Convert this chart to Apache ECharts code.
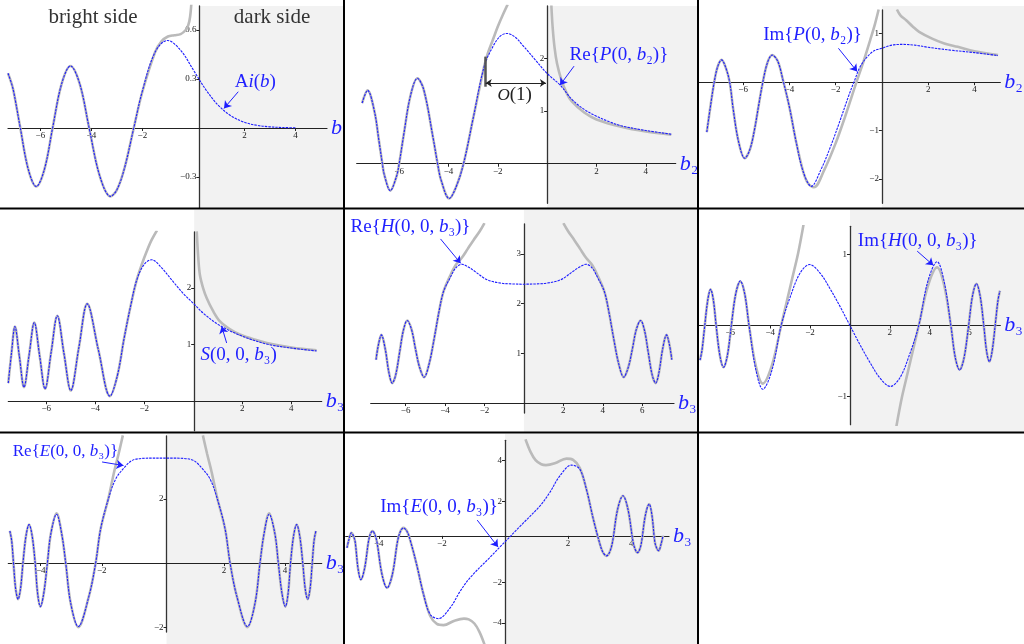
<!DOCTYPE html>
<html>
<head>
<meta charset="utf-8">
<script src="https://cdn.jsdelivr.net/npm/echarts@6/dist/echarts.min.js"></script>
<style>
  html, body { margin: 0; background: #fff; }
  #main { width: 1024px; height: 644px; }
</style>
</head>
<body>
<div id="main"></div>
<script>
// ---- tick labels ----
const xTicksA = [-6, -4, -2, 2, 4]
const xTicksB = [-6, -4, -2, 2, 4, 6]
const xTicksC = [-4, -2, 2, 4]
const p1YTicks = [-0.3, 0.3, 0.6]
const p2YTicks = [1, 2]
const p3YTicks = [-2, -1, 1]
const p4YTicks = [1, 2]
const p5YTicks = [1, 2, 3]
const p6YTicks = [-1, 1]
const p7YTicks = [-2, 2]
const p8YTicks = [-4, -2, 2, 4]

// ---- panel 1: Ai(b) ----
const p1Exact = [[-7.27, 0.335], [-7.1, 0.256], [-7.0, 0.184], [-6.787, 0], [-6.475, -0.253], [-6.163, -0.358], [-5.842, -0.253], [-5.521, 0], [-5.17, 0.269], [-4.82, 0.380], [-4.454, 0.269], [-4.088, 0], [-3.668, -0.296], [-3.248, -0.419], [-3.0, -0.379], [-2.7, -0.245], [-2.338, 0], [-2.0, 0.227], [-1.5, 0.465], [-1.019, 0.536], [-0.5, 0.476], [0, 0.355], [0.5, 0.232], [1.0, 0.135], [1.5, 0.072], [2.0, 0.035], [2.5, 0.016], [3.0, 0.007], [3.5, 0.003], [4.0, 0.001]]
const p1AsymBright = [[-7.27, 0.335], [-7.1, 0.256], [-7.0, 0.184], [-6.787, 0], [-6.475, -0.253], [-6.163, -0.358], [-5.842, -0.253], [-5.521, 0], [-5.17, 0.269], [-4.82, 0.380], [-4.454, 0.269], [-4.088, 0], [-3.668, -0.296], [-3.248, -0.419], [-3.0, -0.379], [-2.7, -0.245], [-2.338, 0], [-2.0, 0.222], [-1.5, 0.465], [-1.25, 0.53], [-1.0, 0.56], [-0.75, 0.568], [-0.5, 0.575], [-0.3, 0.6], [-0.2, 0.63], [-0.13, 0.68], [-0.08, 0.76]]

// ---- panel 2: Re P(0,b2) ----
const p2Exact = [[-7.5, 1.15], [-7.28, 1.39], [-7.0, 0.99], [-6.82, 0.44], [-6.68, 0], [-6.6, -0.21], [-6.36, -0.51], [-6.1, -0.23], [-6.0, 0], [-5.81, 0.56], [-5.55, 1.27], [-5.26, 1.62], [-5.0, 1.40], [-4.62, 0.48], [-4.44, 0], [-4.3, -0.31], [-3.97, -0.66], [-3.7, -0.45], [-3.39, 0], [-3.0, 0.86], [-2.55, 1.85], [-2.2, 2.22], [-1.9, 2.42], [-1.63, 2.47], [-1.3, 2.4], [-1.0, 2.25], [-0.5, 1.98], [0, 1.71], [0.55, 1.48], [1.0, 1.22], [1.5, 1.03], [2.0, 0.9], [2.5, 0.8], [3.0, 0.72], [4.0, 0.63], [5.03, 0.56]]
const p2AsymBright = [[-7.5, 1.15], [-7.28, 1.39], [-7.0, 0.99], [-6.82, 0.44], [-6.68, 0], [-6.6, -0.21], [-6.36, -0.51], [-6.1, -0.23], [-6.0, 0], [-5.81, 0.56], [-5.55, 1.27], [-5.26, 1.62], [-5.0, 1.40], [-4.62, 0.48], [-4.44, 0], [-4.3, -0.31], [-3.97, -0.66], [-3.7, -0.45], [-3.39, 0], [-3.0, 0.86], [-2.55, 1.85], [-2.4, 2.1], [-2.2, 2.35], [-2.0, 2.6], [-1.8, 2.82], [-1.6, 3.02]]
const p2AsymDark = [[0.17, 3.0], [0.22, 2.6], [0.3, 2.2], [0.4, 1.9], [0.57, 1.6], [0.8, 1.33], [1.0, 1.18], [1.5, 0.97], [2.0, 0.84], [3.0, 0.7], [4.0, 0.61], [5.03, 0.55]]

// ---- panel 3: Im P(0,b2) ----
const p3Exact = [[-7.57, -1.03], [-7.4, -0.46], [-7.25, 0], [-7.1, 0.32], [-6.93, 0.46], [-6.75, 0.3], [-6.58, 0], [-6.43, -0.55], [-6.2, -1.22], [-5.93, -1.57], [-5.7, -1.38], [-5.5, -0.96], [-5.335, -0.5], [-5.16, -0.03], [-4.95, 0.40], [-4.74, 0.56], [-4.5, 0.43], [-4.28, 0.05], [-4.0, -0.51], [-3.7, -1.25], [-3.4, -1.85], [-3.05, -2.15], [-2.64, -1.81], [-2.22, -1.33], [-1.8, -0.78], [-1.45, -0.3], [-1.21, 0], [-0.89, 0.36], [-0.4, 0.63], [0, 0.7], [0.5, 0.77], [0.91, 0.78], [1.5, 0.76], [2.0, 0.72], [3.0, 0.66], [4.0, 0.61], [5.02, 0.55]]
const p3AsymBright = [[-7.57, -1.03], [-7.4, -0.46], [-7.25, 0], [-7.1, 0.32], [-6.93, 0.46], [-6.75, 0.3], [-6.58, 0], [-6.43, -0.55], [-6.2, -1.22], [-5.93, -1.57], [-5.7, -1.38], [-5.5, -0.96], [-5.335, -0.5], [-5.16, -0.03], [-4.95, 0.40], [-4.74, 0.56], [-4.5, 0.43], [-4.28, 0.05], [-4.0, -0.51], [-3.7, -1.25], [-3.4, -1.85], [-3.2, -2.08], [-2.94, -2.17], [-2.49, -1.81], [-2.0, -1.26], [-1.59, -0.71], [-1.1, 0], [-0.8, 0.42], [-0.5, 0.88], [-0.3, 1.2], [-0.14, 1.5]]
const p3AsymDark = [[0.65, 1.5], [0.8, 1.38], [1.05, 1.28], [1.33, 1.15], [1.61, 1.04], [2.17, 0.9], [2.7, 0.8], [3.28, 0.73], [4.0, 0.64], [5.02, 0.56]]

// ---- panel 4: S(0,0,b3) ----
const p4Exact = [[-7.55, 0.32], [-7.42, 0.85], [-7.28, 1.32], [-7.1, 0.8], [-6.91, 0.25], [-6.7, 0.82], [-6.49, 1.39], [-6.27, 0.8], [-6.05, 0.22], [-5.8, 0.87], [-5.55, 1.51], [-5.28, 0.85], [-5.0, 0.19], [-4.67, 0.95], [-4.33, 1.72], [-3.87, 0.9], [-3.4, 0.09], [-3.1, 0.45], [-2.82, 1.12], [-2.55, 1.7], [-2.31, 2.14], [-2.0, 2.42], [-1.7, 2.5], [-1.3, 2.36], [-0.8, 2.1], [-0.4, 1.9], [0, 1.73], [0.5, 1.52], [1.16, 1.32], [2.0, 1.15], [3.0, 1.01], [4.0, 0.94], [5.03, 0.89]]
const p4AsymBright = [[-7.55, 0.32], [-7.42, 0.85], [-7.28, 1.32], [-7.1, 0.8], [-6.91, 0.25], [-6.7, 0.82], [-6.49, 1.39], [-6.27, 0.8], [-6.05, 0.22], [-5.8, 0.87], [-5.55, 1.51], [-5.28, 0.85], [-5.0, 0.19], [-4.67, 0.95], [-4.33, 1.72], [-3.87, 0.9], [-3.4, 0.09], [-3.1, 0.45], [-2.82, 1.12], [-2.55, 1.7], [-2.31, 2.14], [-2.1, 2.42], [-1.9, 2.65], [-1.7, 2.85], [-1.48, 3.02]]
const p4AsymDark = [[0.14, 3.0], [0.2, 2.55], [0.27, 2.23], [0.4, 2.0], [0.55, 1.82], [0.8, 1.6], [1.09, 1.41], [1.5, 1.27], [1.9, 1.18], [2.5, 1.09], [3.0, 1.03], [4.0, 0.95], [5.03, 0.9]]

// ---- panel 5: Re H(0,0,b3) ----
const p5Exact = [[-7.5, 0.87], [-7.38, 1.17], [-7.23, 1.37], [-7.03, 1.08], [-6.85, 0.62], [-6.68, 0.40], [-6.5, 0.57], [-6.3, 1.03], [-6.12, 1.45], [-5.92, 1.66], [-5.7, 1.48], [-5.5, 1.09], [-5.3, 0.73], [-5.06, 0.52], [-4.8, 0.8], [-4.55, 1.3], [-4.3, 1.85], [-4.08, 2.24], [-3.74, 2.52], [-3.45, 2.72], [-3.15, 2.79], [-2.8, 2.73], [-2.5, 2.65], [-1.87, 2.48], [-1.15, 2.41], [-0.6, 2.395], [0, 2.39], [0.6, 2.395], [1.15, 2.41], [1.87, 2.48], [2.5, 2.65], [2.8, 2.73], [3.15, 2.79], [3.45, 2.72], [3.74, 2.52], [4.08, 2.24], [4.3, 1.85], [4.55, 1.3], [4.8, 0.8], [5.06, 0.52], [5.3, 0.73], [5.5, 1.09], [5.7, 1.48], [5.92, 1.66], [6.12, 1.45], [6.3, 1.03], [6.5, 0.57], [6.68, 0.40], [6.85, 0.62], [7.03, 1.08], [7.23, 1.37], [7.38, 1.17], [7.5, 0.87]]
const p5AsymBright = [[-7.5, 0.87], [-7.38, 1.17], [-7.23, 1.37], [-7.03, 1.08], [-6.85, 0.62], [-6.68, 0.40], [-6.5, 0.57], [-6.3, 1.03], [-6.12, 1.45], [-5.92, 1.66], [-5.7, 1.48], [-5.5, 1.09], [-5.3, 0.73], [-5.06, 0.52], [-4.8, 0.8], [-4.55, 1.3], [-4.3, 1.85], [-4.08, 2.24], [-3.74, 2.56], [-3.45, 2.78], [-3.15, 2.92], [-2.85, 3.1], [-2.55, 3.28], [-2.25, 3.45], [-2.0, 3.62]]
const p5AsymDark = [[2.0, 3.62], [2.25, 3.45], [2.55, 3.28], [2.85, 3.1], [3.15, 2.92], [3.45, 2.78], [3.74, 2.56], [4.08, 2.24], [4.3, 1.85], [4.55, 1.3], [4.8, 0.8], [5.06, 0.52], [5.3, 0.73], [5.5, 1.09], [5.7, 1.48], [5.92, 1.66], [6.12, 1.45], [6.3, 1.03], [6.5, 0.57], [6.68, 0.40], [6.85, 0.62], [7.03, 1.08], [7.23, 1.37], [7.38, 1.17], [7.5, 0.87]]

// ---- panel 6: Im H(0,0,b3) ----
const p6Exact = [[-7.52, -0.49], [-7.42, -0.35], [-7.3, -0.05], [-7.13, 0.36], [-6.99, 0.51], [-6.85, 0.36], [-6.71, 0], [-6.525, -0.42], [-6.34, -0.59], [-6.145, -0.42], [-5.95, 0], [-5.725, 0.45], [-5.5, 0.63], [-5.28, 0.45], [-5.06, 0], [-4.715, -0.63], [-4.37, -0.9], [-3.91, -0.63], [-3.45, 0], [-3.0, 0.4], [-2.5, 0.74], [-2.02, 0.86], [-1.5, 0.74], [-1.0, 0.52], [-0.5, 0.27], [0, 0], [0.5, -0.27], [1.0, -0.52], [1.5, -0.74], [2.02, -0.86], [2.5, -0.74], [3.0, -0.4], [3.45, 0], [3.91, 0.63], [4.37, 0.9], [4.715, 0.63], [5.06, 0], [5.28, -0.45], [5.5, -0.63], [5.725, -0.45], [5.95, 0], [6.145, 0.42], [6.34, 0.59], [6.525, 0.42], [6.71, 0], [6.85, -0.36], [6.99, -0.51], [7.13, -0.36], [7.3, 0.05], [7.42, 0.35], [7.52, 0.49]]
const p6AsymBright = [[-7.52, -0.49], [-7.42, -0.35], [-7.3, -0.05], [-7.13, 0.36], [-6.99, 0.51], [-6.85, 0.36], [-6.71, 0], [-6.525, -0.42], [-6.34, -0.59], [-6.145, -0.42], [-5.95, 0], [-5.725, 0.45], [-5.5, 0.62], [-5.28, 0.45], [-5.06, 0], [-4.715, -0.58], [-4.37, -0.82], [-3.91, -0.56], [-3.45, 0], [-3.2, 0.3], [-2.9, 0.66], [-2.6, 1.02], [-2.33, 1.42]]
const p6AsymDark = [[2.33, -1.42], [2.6, -1.02], [2.9, -0.66], [3.2, -0.3], [3.45, 0], [3.91, 0.56], [4.37, 0.82], [4.715, 0.58], [5.06, 0], [5.28, -0.45], [5.5, -0.62], [5.725, -0.45], [5.95, 0], [6.145, 0.42], [6.34, 0.59], [6.525, 0.42], [6.71, 0], [6.85, -0.36], [6.99, -0.51], [7.13, -0.36], [7.3, 0.05], [7.42, 0.35], [7.52, 0.49]]

// ---- panel 7: Re E(0,0,b3) ----
const p7Exact = [[-5.01, 1.0], [-4.95, 0.7], [-4.89, 0], [-4.82, -0.8], [-4.74, -1.13], [-4.66, -0.8], [-4.58, 0], [-4.48, 0.85], [-4.38, 1.2], [-4.28, 0.85], [-4.18, 0], [-4.1, -0.95], [-4.01, -1.36], [-3.9, -0.95], [-3.78, 0], [-3.67, 0.9], [-3.48, 1.52], [-3.31, 0.9], [-3.18, 0], [-3.02, -1.24], [-2.77, -1.98], [-2.42, -1.03], [-2.2, 0], [-2.04, 1.05], [-1.82, 1.88], [-1.55, 2.61], [-1.22, 3.02], [-1.0, 3.2], [-0.7, 3.26], [-0.35, 3.27], [0, 3.27], [0.35, 3.27], [0.7, 3.26], [1.0, 3.2], [1.22, 3.02], [1.55, 2.61], [1.82, 1.88], [2.04, 1.05], [2.2, 0], [2.42, -1.03], [2.77, -1.98], [3.02, -1.24], [3.18, 0], [3.31, 0.9], [3.48, 1.52], [3.67, 0.9], [3.78, 0], [3.9, -0.95], [4.01, -1.36], [4.1, -0.95], [4.18, 0], [4.28, 0.85], [4.38, 1.2], [4.48, 0.85], [4.58, 0], [4.66, -0.8], [4.74, -1.13], [4.82, -0.8], [4.89, 0], [4.95, 0.7], [5.01, 1.0]]
const p7AsymBright = [[-5.01, 1.0], [-4.95, 0.7], [-4.89, 0], [-4.82, -0.8], [-4.74, -1.13], [-4.66, -0.8], [-4.58, 0], [-4.48, 0.85], [-4.38, 1.2], [-4.28, 0.85], [-4.18, 0], [-4.1, -0.95], [-4.01, -1.36], [-3.9, -0.95], [-3.78, 0], [-3.67, 0.9], [-3.48, 1.55], [-3.31, 0.9], [-3.18, 0], [-3.02, -1.24], [-2.77, -2.0], [-2.42, -1.03], [-2.2, 0], [-2.04, 1.05], [-1.82, 1.88], [-1.75, 2.15], [-1.6, 2.82], [-1.45, 3.4], [-1.31, 3.98]]
const p7AsymDark = [[1.31, 3.98], [1.45, 3.4], [1.6, 2.82], [1.75, 2.15], [1.82, 1.88], [2.04, 1.05], [2.2, 0], [2.42, -1.03], [2.77, -2.0], [3.02, -1.24], [3.18, 0], [3.31, 0.9], [3.48, 1.55], [3.67, 0.9], [3.78, 0], [3.9, -0.95], [4.01, -1.36], [4.1, -0.95], [4.18, 0], [4.28, 0.85], [4.38, 1.2], [4.48, 0.85], [4.58, 0], [4.66, -0.8], [4.74, -1.13], [4.82, -0.8], [4.89, 0], [4.95, 0.7], [5.01, 1.0]]

// ---- panel 8: Im E(0,0,b3) ----
const p8Exact = [[-5.01, -0.3], [-4.95, 0.1], [-4.87, 0.44], [-4.81, 0.31], [-4.75, 0], [-4.66, -1.3], [-4.57, -1.86], [-4.45, -1.3], [-4.33, 0], [-4.27, 0.38], [-4.2, 0.53], [-4.13, 0.38], [-4.06, 0], [-3.9, -1.6], [-3.74, -2.27], [-3.57, -1.6], [-3.41, 0], [-3.32, 0.5], [-3.22, 0.69], [-3.1, 0.5], [-2.99, 0], [-2.8, -1.12], [-2.58, -2.6], [-2.37, -3.58], [-2.11, -3.78], [-1.74, -3.25], [-1.42, -2.43], [-1.11, -1.77], [-0.5, -0.8], [0, 0], [0.5, 0.8], [1.11, 1.77], [1.42, 2.43], [1.74, 3.25], [2.11, 3.78], [2.37, 3.58], [2.58, 2.6], [2.8, 1.12], [2.99, 0], [3.1, -0.5], [3.22, -0.69], [3.32, -0.5], [3.41, 0], [3.57, 1.6], [3.74, 2.27], [3.9, 1.6], [4.06, 0], [4.13, -0.38], [4.2, -0.53], [4.27, -0.38], [4.33, 0], [4.45, 1.3], [4.57, 1.86], [4.66, 1.3], [4.75, 0], [4.81, -0.31], [4.87, -0.44], [4.95, -0.1], [5.01, 0.3]]
const p8AsymBright = [[-5.01, -0.3], [-4.95, 0.1], [-4.87, 0.44], [-4.81, 0.31], [-4.75, 0], [-4.66, -1.3], [-4.57, -1.86], [-4.45, -1.3], [-4.33, 0], [-4.27, 0.38], [-4.2, 0.53], [-4.13, 0.38], [-4.06, 0], [-3.9, -1.6], [-3.74, -2.27], [-3.57, -1.6], [-3.41, 0], [-3.32, 0.5], [-3.22, 0.69], [-3.1, 0.5], [-2.99, 0], [-2.8, -1.12], [-2.58, -2.6], [-2.37, -3.65], [-2.16, -4.04], [-1.95, -4.1], [-1.6, -3.88], [-1.3, -3.78], [-1.15, -3.82], [-0.97, -4.02], [-0.81, -4.43], [-0.65, -5.05]]
const p8AsymDark = [[0.65, 5.05], [0.81, 4.43], [0.97, 4.02], [1.15, 3.82], [1.3, 3.78], [1.6, 3.88], [1.95, 4.1], [2.16, 4.04], [2.37, 3.65], [2.58, 2.6], [2.8, 1.12], [2.99, 0], [3.1, -0.5], [3.22, -0.69], [3.32, -0.5], [3.41, 0], [3.57, 1.6], [3.74, 2.27], [3.9, 1.6], [4.06, 0], [4.13, -0.38], [4.2, -0.53], [4.27, -0.38], [4.33, 0], [4.45, 1.3], [4.57, 1.86], [4.66, 1.3], [4.75, 0], [4.81, -0.31], [4.87, -0.44], [4.95, -0.1], [5.01, 0.3]]

const BLUE = '#1f1fff'
const GRAY = '#bababa'
const FONT = '"Liberation Serif", "DejaVu Serif", serif'

// layout of the 8 panels (pixel boxes) and annotations in data coords
const panels = [
  { grid: [8, 6, 319, 202], xr: [-7.27, 5.24], yr: [-0.49, 0.747], xt: xTicksA, yt: p1YTicks, name: '{i|b}',
    exact: p1Exact, asym: [p1AsymBright], shade: [344, 6, 208],
    labels: [{ at: [2.43, 0.284], text: 'A{i|i}({i|b})' }],
    arrows: [[[1.76, 0.222], [1.2, 0.12]]] },
  { grid: [356.7, 6, 319, 197.3], xr: [-7.72, 5.21], yr: [-0.75, 2.99], xt: xTicksA, yt: p2YTicks, name: '{i|b}₂',
    exact: p2Exact, asym: [p2AsymBright, p2AsymDark], shade: [697, 6, 208],
    labels: [{ at: [2.91, 2.06], text: 'Re{{i|P}(0, {i|b}₂)}' }, { at: [-1.32, 1.3], text: '{k|O}(1)', color: '#222' }],
    arrows: [[[1.09, 1.85], [0.52, 1.49]]],
    extra: [
      [{ coord: [-2.49, 1.46], symbol: 'none', lineStyle: { color: '#555', width: 2.5, type: 'solid' } }, { coord: [-2.49, 2.03], symbol: 'none' }],
      [{ coord: [-2.49, 1.53], symbol: 'arrow', lineStyle: { color: '#222', width: 1, type: 'solid' } }, { coord: [-0.05, 1.53], symbol: 'arrow' }]
    ] },
  { grid: [698, 10, 311.7, 193.3], xr: [-7.95, 5.12], yr: [-2.5, 1.49], xt: xTicksA, yt: p3YTicks, name: '{i|b}₂',
    exact: p3Exact, asym: [p3AsymBright, p3AsymDark], shade: [1024, 6, 208],
    labels: [{ at: [-3.0, 0.98], text: 'Im{{i|P}(0, {i|b}₂)}' }],
    arrows: [[[-1.88, 0.7], [-1.07, 0.22]]] },
  { grid: [8.3, 232, 313.4, 198.7], xr: [-7.55, 5.24], yr: [-0.52, 2.99], xt: xTicksA, yt: p4YTicks, name: '{i|b}₃',
    exact: p4Exact, asym: [p4AsymBright, p4AsymDark], shade: [344, 210, 432],
    labels: [{ at: [1.85, 0.82], text: '{i|S}(0, 0, {i|b}₃)' }],
    arrows: [[[1.36, 1.03], [1.16, 1.32]]] },
  { grid: [370.7, 224, 303.3, 189], xr: [-7.77, 7.61], yr: [-0.2, 3.6], xt: xTicksB, yt: p5YTicks, name: '{i|b}₃',
    exact: p5Exact, asym: [p5AsymBright, p5AsymDark], shade: [697, 210, 432],
    labels: [{ at: [-5.75, 3.53], text: 'Re{{i|H}(0, 0, {i|b}₃)}' }],
    arrows: [[[-4.23, 3.3], [-3.21, 2.81]]] },
  { grid: [698, 226.3, 311.7, 198.4], xr: [-7.62, 7.54], yr: [-1.4, 1.4], xt: xTicksB, yt: p6YTicks, name: '{i|b}₃',
    exact: p6Exact, asym: [p6AsymBright, p6AsymDark], shade: [1024, 210, 432],
    labels: [{ at: [3.4, 1.19], text: 'Im{{i|H}(0, 0, {i|b}₃)}' }],
    arrows: [[[3.37, 1.05], [4.18, 0.85]]] },
  { grid: [8.3, 436, 313.4, 196], xr: [-5.06, 5.2], yr: [-2.15, 3.96], xt: xTicksC, yt: p7YTicks, name: '{i|b}₃',
    exact: p7Exact, asym: [p7AsymBright, p7AsymDark], shade: [344, 434, 644],
    labels: [{ at: [-3.19, 3.48], text: 'Re{{i|E}(0, 0, {i|b}₃)}', size: 17 }],
    arrows: [[[-1.99, 3.15], [-1.29, 3.04]]] },
  { grid: [345.7, 440.3, 323.3, 203.7], xr: [-5.05, 5.2], yr: [-5.03, 5.0], xt: xTicksC, yt: p8YTicks, name: '{i|b}₃',
    exact: p8Exact, asym: [p8AsymBright, p8AsymDark], shade: [697, 434, 644],
    labels: [{ at: [-2.09, 1.72], text: 'Im{{i|E}(0, 0, {i|b}₃)}' }],
    arrows: [[[-0.88, 1.07], [-0.22, -0.25]]] }
]

function tickFmt (v) {
  return v < 0 ? '−' + Math.abs(v) : String(v)
}

const grids = []
const xAxes = []
const yAxes = []
const series = []

panels.forEach((p, i) => {
  grids.push({ left: p.grid[0], top: p.grid[1], width: p.grid[2], height: p.grid[3], containLabel: false })
  xAxes.push({
    type: 'value', gridIndex: i, min: p.xr[0], max: p.xr[1], position: 'bottom', offset: 0,
    axisLine: { onZero: false, lineStyle: { color: '#222', width: 1.2 } },
    axisTick: { length: 3, customValues: p.xt, lineStyle: { color: '#222' } },
    axisLabel: { customValues: p.xt, formatter: tickFmt, fontSize: 9, fontFamily: FONT, color: '#222', margin: 3 },
    splitLine: { show: false },
    name: p.name,
    nameLocation: 'end',
    nameGap: 4,
    nameTextStyle: {
      color: BLUE, fontSize: 22, fontFamily: FONT, align: 'left', verticalAlign: 'middle',
      rich: { i: { color: BLUE, fontSize: 22, fontFamily: FONT, fontStyle: 'italic' } }
    }
  })
  yAxes.push({
    type: 'value', gridIndex: i, min: p.yr[0], max: p.yr[1], position: 'left', offset: 0,
    axisLine: { onZero: false, lineStyle: { color: '#333', width: 1.3 } },
    axisTick: { length: 3, customValues: p.yt, lineStyle: { color: '#222' } },
    axisLabel: { customValues: p.yt, formatter: tickFmt, fontSize: 9, fontFamily: FONT, color: '#222', margin: 3 },
    splitLine: { show: false }
  })
  // asymptotic (gray) curves first, exact (blue dashed) on top
  p.asym.forEach((a, k) => {
    const s = {
      type: 'line', xAxisIndex: i, yAxisIndex: i, data: a, smooth: 0.35, showSymbol: false,
      lineStyle: { color: GRAY, width: 2.6 }, silent: true
    }
    if (k === 0 && p.extra) {
      s.markLine = { silent: true, symbolSize: 6, label: { show: false }, data: p.extra }
    }
    series.push(s)
  })
  series.push({
    type: 'line', xAxisIndex: i, yAxisIndex: i, data: p.exact, smooth: 0.35, showSymbol: false,
    lineStyle: { color: BLUE, width: 1.1, type: [2.5, 1] }, silent: true,
    markLine: {
      silent: true, symbol: ['none', 'arrow'], symbolSize: 7,
      lineStyle: { color: BLUE, width: 1, type: 'solid' },
      label: { show: false },
      data: p.arrows.map(a => [{ coord: a[0] }, { coord: a[1] }])
    }
  })
})

const chart = echarts.init(document.getElementById('main'))
chart.setOption({
  animation: false,
  grid: grids,
  xAxis: xAxes,
  yAxis: yAxes,
  series: series
})

// move every axis (line, ticks, labels, name) onto the other axis' zero
const zeroPx = panels.map((p, i) => chart.convertToPixel({ gridIndex: i }, [0, 0]))
chart.setOption({
  xAxis: panels.map((p, i) => ({ offset: zeroPx[i][1] - (p.grid[1] + p.grid[3]) })),
  yAxis: panels.map((p, i) => ({ offset: p.grid[0] - zeroPx[i][0] }))
})

// shading of the dark side, labels and panel borders
const gfx = []
panels.forEach((p, i) => {
  const x0 = zeroPx[i][0]
  gfx.push({
    type: 'rect', z: -10, silent: true,
    shape: { x: x0, y: p.shade[1], width: p.shade[0] - x0, height: p.shade[2] - p.shade[1] },
    style: { fill: '#f2f2f2' }
  })
  p.labels.forEach(l => {
    const pt = chart.convertToPixel({ gridIndex: i }, l.at)
    const size = l.size || 19
    const col = l.color || BLUE
    gfx.push({
      type: 'text', z: 50, silent: true, x: pt[0], y: pt[1],
      style: {
        text: l.text, fill: col, font: size + 'px ' + FONT, align: 'center', verticalAlign: 'middle',
        rich: {
          i: { fill: col, font: 'italic ' + size + 'px ' + FONT },
          k: { fill: col, font: 'italic 17px ' + FONT }
        }
      }
    })
  })
})
gfx.push({ type: 'text', z: 50, silent: true, x: 93, y: 17, style: { text: 'bright side', fill: '#333', font: '21px ' + FONT, align: 'center', verticalAlign: 'middle' } })
gfx.push({ type: 'text', z: 50, silent: true, x: 272, y: 17, style: { text: 'dark side', fill: '#333', font: '21px ' + FONT, align: 'center', verticalAlign: 'middle' } })
const borders = [[344, 0, 344, 644], [698, 0, 698, 644], [0, 208.5, 1024, 208.5], [0, 432.5, 1024, 432.5]]
borders.forEach(b => {
  gfx.push({ type: 'line', z: 100, silent: true, shape: { x1: b[0], y1: b[1], x2: b[2], y2: b[3] }, style: { stroke: '#000', lineWidth: 2 } })
})
chart.setOption({ graphic: gfx })
</script>
</body>
</html>
